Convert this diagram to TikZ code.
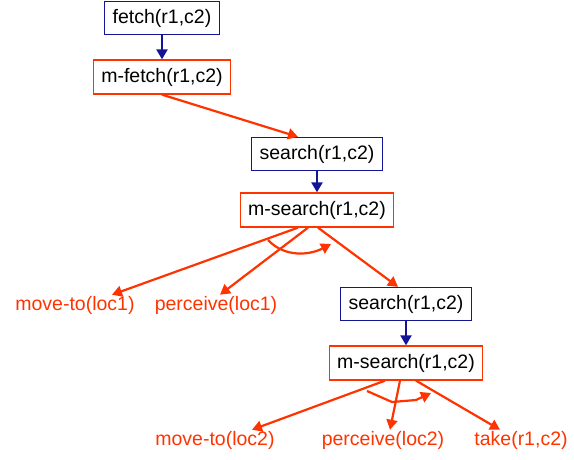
\documentclass[tikz,border=0pt]{standalone}
\usepackage{fontspec}
\setmainfont{Liberation Sans}
\usetikzlibrary{arrows.meta}
\definecolor{taskblue}{RGB}{20,20,150}
\definecolor{methred}{RGB}{255,51,0}
\tikzset{
  task/.style={draw=taskblue, line width=1.3pt, fill=white, inner xsep=8pt, minimum height=33pt, text=black},
  meth/.style={draw=methred, line width=1.3pt, fill=white, inner xsep=8pt, minimum height=34pt, text=black},
  prim/.style={text=methred, inner sep=1pt},
  tarrow/.style={draw=taskblue, line width=2.2pt, -{Triangle[length=10pt,width=11pt]}},
  marrow/.style={draw=methred, line width=2.2pt, -{Triangle[length=10pt,width=11pt]}}
}
\begin{document}
\begin{tikzpicture}[x=1pt, y=-1pt, font=\fontsize{19.5}{23}\selectfont]
  \useasboundingbox (0,0) rectangle (574,459);
  \node[task] (fetch) at (162,18) {fetch(r1,c2)};
  \node[meth] (mfetch) at (162,77) {m-fetch(r1,c2)};
  \node[task] (search1) at (317,154) {search(r1,c2)};
  \node[meth] (msearch1) at (317,210) {m-search(r1,c2)};
  \node[prim] (move1) at (75,305) {move-to(loc1)};
  \node[prim] (perc1) at (216,305) {perceive(loc1)};
  \node[task] (search2) at (406,304) {search(r1,c2)};
  \node[meth] (msearch2) at (406,363) {m-search(r1,c2)};
  \node[prim] (move2) at (215,440) {move-to(loc2)};
  \node[prim] (perc2) at (383,440) {perceive(loc2)};
  \node[prim] (take) at (521,440) {take(r1,c2)};
  \draw[tarrow] (fetch) -- (mfetch);
  \draw[marrow] (mfetch.south) -- ([xshift=-19pt]search1.north);
  \draw[tarrow] (search1) -- (msearch1);
  \draw[marrow] ([xshift=-19pt]msearch1.south) -- ([xshift=37pt]move1.north);
  \draw[marrow] ([xshift=-9pt]msearch1.south) -- ([xshift=4pt]perc1.north);
  \draw[marrow] ([xshift=1pt]msearch1.south) -- ([xshift=-8pt]search2.north);
  \draw[tarrow] (search2) -- (msearch2);
  \draw[marrow] ([xshift=-21pt]msearch2.south) -- ([xshift=37pt]move2.north);
  \draw[marrow] ([xshift=-6pt]msearch2.south) -- ([xshift=7pt]perc2.north);
  \draw[marrow] ([xshift=10pt]msearch2.south) -- ([xshift=-21pt]take.north);
  \coordinate (arc1a) at (268,240);
  \coordinate (arc1b) at (331,244);
  \draw[marrow] (arc1a) .. controls (285,258) and (310,255) .. (arc1b);
  \coordinate (arc2a) at (367,391);
  \coordinate (arc2b) at (431,393);
  \draw[marrow] (arc2a) -- (392,402) -- (416,400) -- (arc2b);
\end{tikzpicture}
\end{document}
